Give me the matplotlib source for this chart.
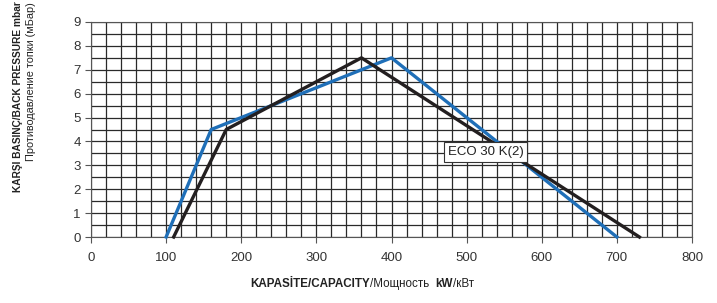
import matplotlib
matplotlib.use('Agg')
import matplotlib.pyplot as plt
from matplotlib.ticker import MultipleLocator

# blue curve
blue_x = [100, 160, 400, 700]
blue_y = [0, 4.5, 7.5, 0]
# black curve
black_x = [110, 180, 360, 730]
black_y = [0, 4.5, 7.5, 0]

label = 'ECO 30 K(2)'
xticks = [0, 100, 200, 300, 400, 500, 600, 700, 800]
yticks = [0, 1, 2, 3, 4, 5, 6, 7, 8, 9]

plt.rcParams['font.family'] = ['Liberation Sans', 'DejaVu Sans']

fig = plt.figure(figsize=(7.17, 3.03), dpi=100)
ax = fig.add_axes([91/717, 1-237/303, 601/717, 215/303])

ax.set_xlim(0, 800)
ax.set_ylim(0, 9)
ax.xaxis.set_minor_locator(MultipleLocator(20))
ax.yaxis.set_minor_locator(MultipleLocator(0.5))
ax.set_xticks(xticks)
ax.set_yticks(yticks)
ax.grid(which='both', color='#2a2a2a', lw=0.9)
ax.set_axisbelow(True)
ax.tick_params(which='major', length=4, width=0.8, colors='#555555', labelcolor='#333333', labelsize=9.5)
ax.tick_params(axis='x', pad=7)
ax.tick_params(which='minor', length=0)
for s in ax.spines.values():
    s.set_color('#555555')
    s.set_linewidth(0.8)

ax.plot(blue_x, blue_y, color='#1f6fb8', lw=2.4, clip_on=False, zorder=3)
ax.plot(black_x, black_y, color='#231f20', lw=2.4, clip_on=False, zorder=4)

ax.text(525, 3.57, label, ha='center', va='center', fontsize=9.5, color='#222222', zorder=5,
        bbox=dict(boxstyle='square,pad=0.3', fc='white', ec='#333333', lw=0.8))

# y label: two lines
fig.text(18/717, 1-97/303, 'KARŞI BASINÇ/BACK PRESSURE mbar', rotation=90, ha='center', va='center',
         fontsize=7.3, fontweight='bold', color='#222222')
fig.text(31/717, 1-82/303, 'Противодавление топки (мБар)', rotation=90, ha='center', va='center',
         fontsize=7.8, color='#222222')

# x label made of pieces with different weights
pieces = [('KAPASİTE/CAPACITY', 'bold'), ('/Мощность  ', 'normal'), ('kW', 'bold'), ('/кВт', 'normal')]
fig.canvas.draw()
r = fig.canvas.get_renderer()
x = 250
for txt, w in pieces:
    t = fig.text(x/717, 1-284/303, txt, ha='left', va='center', fontsize=8.4, fontweight=w,
                 color='#222222')
    bb = t.get_window_extent(r)
    x += bb.width

fig.savefig('out.png', dpi=100)
